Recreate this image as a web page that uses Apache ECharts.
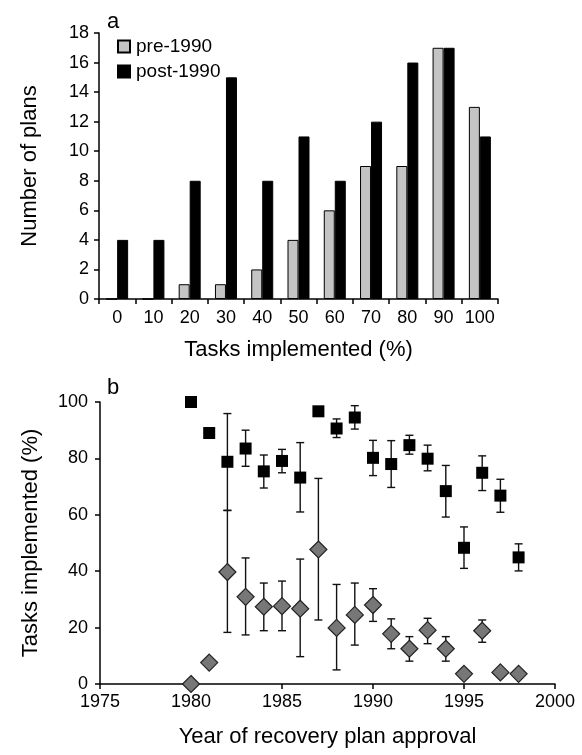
<!DOCTYPE html>
<html>
<head>
<meta charset="utf-8">
<script src="https://cdn.jsdelivr.net/npm/echarts@6/dist/echarts.min.js"></script>
<style>
  html, body { margin: 0; padding: 0; background: #fff; }
  #chart { width: 582px; height: 755px; }
</style>
</head>
<body>
<div id="chart"></div>
<script>
// panel a: number of plans by % tasks implemented
var taskCats = ['0', '10', '20', '30', '40', '50', '60', '70', '80', '90', '100'];
var pre1990 = [0, 0, 1, 1, 2, 4, 6, 9, 9, 17, 13];
var post1990 = [4, 4, 8, 15, 8, 11, 8, 12, 16, 17, 11];

// panel b: % tasks implemented by approval year (mean, low, high)
var years = [1980, 1981, 1982, 1983, 1984, 1985, 1986, 1987, 1988, 1989,
             1990, 1991, 1992, 1993, 1994, 1995, 1996, 1997, 1998];
var sqMean = [100, 89, 78.8, 83.5, 75.4, 79.1, 73.2, 96.7, 90.6, 94.5,
              80.2, 78.0, 84.7, 79.9, 68.4, 48.3, 74.9, 66.8, 44.9];
var sqLow  = [null, null, 61.6, 77.2, 69.5, 74.9, 61.0, null, 87.4, 90.4,
              73.9, 69.7, 81.5, 75.6, 59.2, 41.0, 68.6, 60.9, 40.1];
var sqHigh = [null, null, 95.9, 90.0, 81.2, 83.2, 85.6, null, 94.0, 98.7,
              86.4, 86.3, 88.2, 84.7, 77.5, 55.7, 80.9, 72.6, 49.7];
var dmMean = [0, 7.6, 39.7, 30.9, 27.4, 27.6, 26.7, 47.7, 19.9, 24.5,
              28.0, 17.8, 12.5, 19.1, 12.5, 3.6, 18.9, 4.1, 3.6];
var dmLow  = [null, null, 18.3, 17.4, 18.9, 18.9, 9.7, 22.7, 5.0, 13.8,
              22.2, 12.5, 8.1, 14.3, 8.1, null, 14.8, null, null];
var dmHigh = [null, null, 61.5, 44.7, 35.8, 36.5, 44.3, 72.9, 35.3, 35.8,
              33.8, 23.1, 16.8, 23.3, 16.8, null, 22.7, null, null];

var font = "'Liberation Sans', Arial, sans-serif";

function pairs(xs, ys) {
  return xs.map(function (x, i) { return [x, ys[i]]; });
}
function errData(lo, hi) {
  var out = [];
  years.forEach(function (y, i) {
    if (lo[i] != null && hi[i] != null) out.push([y, lo[i], hi[i]]);
  });
  return out;
}
// error bar with caps
function renderErr(params, api) {
  var x = api.value(0);
  var pLo = api.coord([x, api.value(1)]);
  var pHi = api.coord([x, api.value(2)]);
  var w = 4;
  var st = { stroke: '#111', lineWidth: 1.4 };
  return {
    type: 'group',
    children: [
      { type: 'line', shape: { x1: pLo[0], y1: pLo[1], x2: pHi[0], y2: pHi[1] }, style: st },
      { type: 'line', shape: { x1: pLo[0] - w, y1: pLo[1], x2: pLo[0] + w, y2: pLo[1] }, style: st },
      { type: 'line', shape: { x1: pHi[0] - w, y1: pHi[1], x2: pHi[0] + w, y2: pHi[1] }, style: st }
    ]
  };
}

var axisLine = { show: true, lineStyle: { color: '#000', width: 1.5 } };
var axisTick = { show: true, length: 5, lineStyle: { color: '#000', width: 1.5 } };
var tickLabel = { color: '#000', fontSize: 18, fontFamily: font };
var nameStyle = { color: '#000', fontSize: 22, fontFamily: font };

var myChart = echarts.init(document.getElementById('chart'));
myChart.setOption({
  animation: false,
  backgroundColor: '#fff',
  textStyle: { fontFamily: font },
  title: [
    { text: 'a', left: 102, top: 6, textStyle: { fontSize: 22, fontWeight: 'normal', color: '#000', fontFamily: font } },
    { text: 'b', left: 102, top: 372, textStyle: { fontSize: 22, fontWeight: 'normal', color: '#000', fontFamily: font } }
  ],
  legend: {
    left: 112,
    top: 32,
    orient: 'vertical',
    itemWidth: 12,
    itemHeight: 12,
    itemGap: 6,
    icon: 'rect',
    textStyle: { fontSize: 19, color: '#000', fontFamily: font, padding: [0, 0, 0, 1] },
    data: ['pre-1990', 'post-1990']
  },
  grid: [
    { left: 99, top: 33, width: 399, height: 266 },
    { left: 100, top: 402, width: 455, height: 282 }
  ],
  xAxis: [
    {
      gridIndex: 0,
      type: 'category',
      data: taskCats,
      name: 'Tasks implemented (%)',
      nameLocation: 'middle',
      nameGap: 40,
      nameTextStyle: nameStyle,
      axisLine: axisLine,
      axisTick: axisTick,
      axisLabel: Object.assign({ margin: 10, interval: 0 }, tickLabel),
      splitLine: { show: false }
    },
    {
      gridIndex: 1,
      type: 'value',
      min: 1975,
      max: 2000,
      interval: 5,
      name: 'Year of recovery plan approval',
      nameLocation: 'middle',
      nameGap: 42,
      nameTextStyle: nameStyle,
      axisLine: axisLine,
      axisTick: axisTick,
      axisLabel: Object.assign({ margin: 9, formatter: function (v) { return String(v); } }, tickLabel),
      splitLine: { show: false }
    }
  ],
  yAxis: [
    {
      gridIndex: 0,
      type: 'value',
      min: 0,
      max: 18,
      interval: 2,
      name: 'Number of plans',
      nameLocation: 'middle',
      nameGap: 58,
      nameTextStyle: nameStyle,
      axisLine: axisLine,
      axisTick: axisTick,
      axisLabel: Object.assign({ margin: 10 }, tickLabel),
      splitLine: { show: false }
    },
    {
      gridIndex: 1,
      type: 'value',
      min: 0,
      max: 100,
      interval: 20,
      name: 'Tasks implemented (%)',
      nameLocation: 'middle',
      nameGap: 58,
      nameTextStyle: nameStyle,
      axisLine: axisLine,
      axisTick: axisTick,
      axisLabel: Object.assign({ margin: 12 }, tickLabel),
      splitLine: { show: false }
    }
  ],
  series: [
    {
      name: 'pre-1990',
      type: 'bar',
      xAxisIndex: 0,
      yAxisIndex: 0,
      barWidth: 11,
      barGap: '0%',
      data: pre1990,
      itemStyle: { color: '#c4c4c4', borderColor: '#000', borderWidth: 1 }
    },
    {
      name: 'post-1990',
      type: 'bar',
      xAxisIndex: 0,
      yAxisIndex: 0,
      barWidth: 11,
      barGap: '0%',
      data: post1990,
      itemStyle: { color: '#000', borderColor: '#000', borderWidth: 1 }
    },
    {
      type: 'custom',
      xAxisIndex: 1,
      yAxisIndex: 1,
      renderItem: renderErr,
      data: errData(sqLow, sqHigh),
      z: 1
    },
    {
      type: 'custom',
      xAxisIndex: 1,
      yAxisIndex: 1,
      renderItem: renderErr,
      data: errData(dmLow, dmHigh),
      z: 1
    },
    {
      type: 'scatter',
      xAxisIndex: 1,
      yAxisIndex: 1,
      symbol: 'rect',
      symbolSize: 12,
      data: pairs(years, sqMean),
      itemStyle: { color: '#000', opacity: 1 },
      z: 3
    },
    {
      type: 'scatter',
      xAxisIndex: 1,
      yAxisIndex: 1,
      symbol: 'diamond',
      symbolSize: 17,
      data: pairs(years, dmMean),
      itemStyle: { color: '#777', borderColor: '#222', borderWidth: 1.2, opacity: 1 },
      z: 3
    }
  ]
});
</script>
</body>
</html>
